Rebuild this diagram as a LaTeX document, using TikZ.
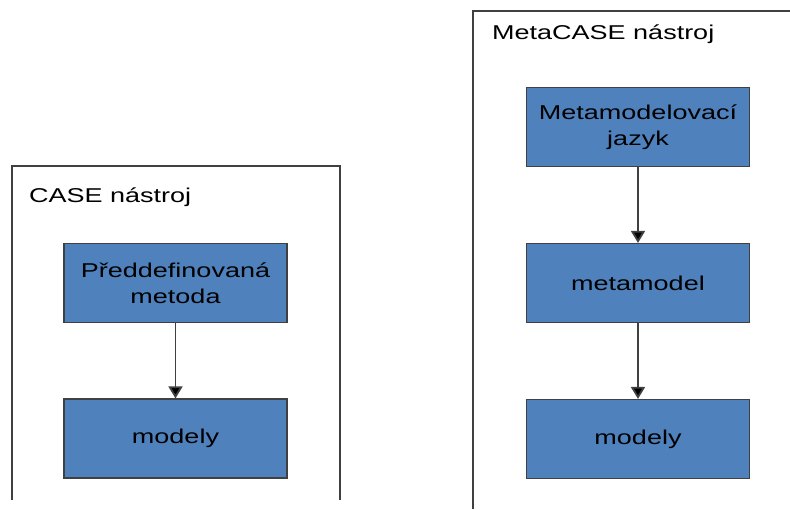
\documentclass[tikz,border=0pt]{standalone}
\usepackage{fontspec}
\setmainfont{Liberation Sans}[FakeStretch=1.35]
\usetikzlibrary{arrows.meta}
\definecolor{boxblue}{HTML}{4F81BD}
\definecolor{linegray}{HTML}{404040}
\tikzset{
  tool/.style={draw=linegray,line width=1.4pt},
  blok/.style={rectangle,draw=linegray,line width=1.2pt,fill=boxblue,minimum width=223pt,minimum height=79pt,inner sep=0pt,align=center,font=\fontsize{20}{26}\selectfont},
  title/.style={anchor=base west,inner sep=0pt,font=\fontsize{20}{26}\selectfont},
  flow/.style={draw=linegray,line width=1.8pt,-{Triangle[width=14pt,length=12pt,fill=black]}}
}
\begin{document}
\begin{tikzpicture}[x=1pt,y=-1pt]
        \useasboundingbox (0,0) rectangle (790,509);
        % frames
        \draw[tool] (12,500) -- (12,166) -- (340,166) -- (340,500);
        \draw[tool] (473,509) -- (473,11) -- (790,11);
        \node[title] (casetitle) at (29,202) {CASE nástroj};
        \node[title] (metatitle) at (492,39) {MetaCASE nástroj};
        % left tool
        \node[blok] (metoda) at (175.5,283) {Předdefinovaná\\metoda};
        \node[blok] (modely1) at (175.5,438.5) {modely};
        % right tool
        \node[blok] (jazyk) at (638,127) {Metamodelovací\\jazyk};
        \node[blok] (metamodel) at (638,283) {metamodel};
        \node[blok] (modely2) at (638,439) {modely};
        \draw[flow] (metoda) -- (modely1);
        \draw[flow] (jazyk) -- (metamodel);
        \draw[flow] (metamodel) -- (modely2);
        \end{tikzpicture}
\end{document}
